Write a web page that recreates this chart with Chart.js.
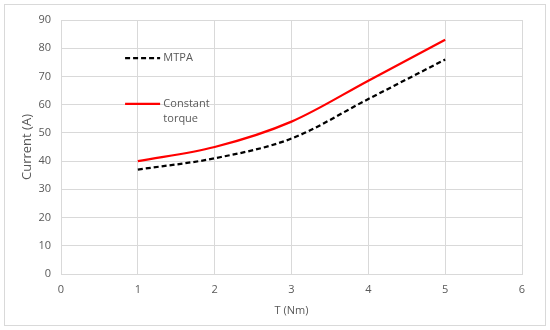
<!DOCTYPE html>
<html>
<head>
<meta charset="utf-8">
<script src="https://cdn.jsdelivr.net/npm/chart.js@4/dist/chart.umd.min.js"></script>
<style>
  html, body { margin: 0; padding: 0; background: #ffffff; }
  canvas { display: block; }
</style>
</head>
<body>
<canvas id="c" width="550" height="330"></canvas>
<script>
const torque = [1, 2, 3, 4, 5];
const mtpaCurrent = [37, 41, 48, 62, 76];
const constantTorqueCurrent = [40, 45, 54, 68.5, 83];
const xTicks = [0, 1, 2, 3, 4, 5, 6];
const yTicks = [0, 10, 20, 30, 40, 50, 60, 70, 80, 90];
const seriesNames = ['MTPA', 'Constant', 'torque'];
const axisTitles = ['T (Nm)', 'Current (A)'];

const textColor = '#595959';
const gridColor = '#d9d9d9';
const fontFamily = '"Open Sans", "Liberation Sans", sans-serif';

function toPoints(xs, ys) { return xs.map((x, i) => ({ x: x, y: ys[i] })); }

const frame = {
  id: 'frame',
  beforeDraw(chart) {
    const ctx = chart.ctx;
    ctx.save();
    ctx.fillStyle = '#ffffff';
    ctx.fillRect(0, 0, chart.width, chart.height);
    ctx.strokeStyle = gridColor;
    ctx.lineWidth = 1;
    ctx.strokeRect(4.5, 4.5, chart.width - 9, chart.height - 9);
    ctx.restore();
  }
};

const innerLegend = {
  id: 'innerLegend',
  afterDraw(chart) {
    const ctx = chart.ctx;
    const a = chart.chartArea;
    const w = a.right - a.left, h = a.bottom - a.top;
    const x0 = a.left + w * 0.139;
    const x1 = a.left + w * 0.215;
    const tx = a.left + w * 0.222;
    const y1 = a.top + h * 0.150;
    const y2 = a.top + h * 0.330;
    const lh = h * 0.060;
    ctx.save();
    ctx.lineWidth = 2.25;
    ctx.strokeStyle = '#000000';
    ctx.setLineDash([5, 3]);
    ctx.beginPath(); ctx.moveTo(x0, y1); ctx.lineTo(x1, y1); ctx.stroke();
    ctx.setLineDash([]);
    ctx.strokeStyle = '#ff0000';
    ctx.beginPath(); ctx.moveTo(x0, y2); ctx.lineTo(x1, y2); ctx.stroke();
    ctx.fillStyle = textColor;
    ctx.font = '11px ' + fontFamily;
    ctx.textAlign = 'left';
    ctx.textBaseline = 'middle';
    ctx.fillText(seriesNames[0], tx, y1);
    ctx.fillText(seriesNames[1], tx, y2);
    ctx.fillText(seriesNames[2], tx, y2 + lh);
    ctx.restore();
  }
};

new Chart(document.getElementById('c'), {
  type: 'line',
  data: {
    datasets: [
      {
        label: seriesNames[0],
        data: toPoints(torque, mtpaCurrent),
        borderColor: '#000000',
        borderWidth: 2.25,
        borderDash: [5, 3],
        pointRadius: 0,
        cubicInterpolationMode: 'monotone',
        fill: false
      },
      {
        label: seriesNames[1] + ' ' + seriesNames[2],
        data: toPoints(torque, constantTorqueCurrent),
        borderColor: '#ff0000',
        borderWidth: 2.25,
        pointRadius: 0,
        cubicInterpolationMode: 'monotone',
        fill: false
      }
    ]
  },
  options: {
    responsive: false,
    animation: false,
    devicePixelRatio: 1,
    layout: { padding: { left: 0, top: 20, right: 28, bottom: 0 } },
    plugins: { legend: { display: false }, tooltip: { enabled: false } },
    scales: {
      x: {
        type: 'linear',
        min: xTicks[0],
        max: xTicks[xTicks.length - 1],
        afterBuildTicks(scale) { scale.ticks = xTicks.map(v => ({ value: v })); },
        afterFit(scale) { scale.height = 56; },
        grid: { color: gridColor, lineWidth: 1, drawTicks: false },
        border: { color: gridColor, width: 1 },
        ticks: { color: textColor, font: { family: fontFamily, size: 11 }, padding: 9 },
        title: { display: true, text: axisTitles[0], color: textColor, font: { family: fontFamily, size: 11 }, padding: { top: 0, bottom: 13 } }
      },
      y: {
        type: 'linear',
        min: yTicks[0],
        max: yTicks[yTicks.length - 1],
        afterBuildTicks(scale) { scale.ticks = yTicks.map(v => ({ value: v })); },
        afterFit(scale) { scale.width = 61; },
        grid: { color: gridColor, lineWidth: 1, drawTicks: false },
        border: { color: gridColor, width: 1 },
        ticks: { color: textColor, font: { family: fontFamily, size: 11 }, padding: 10 },
        title: { display: true, text: axisTitles[1], color: textColor, font: { family: fontFamily, size: 13 }, padding: { top: 19, bottom: 0 } }
      }
    }
  },
  plugins: [frame, innerLegend]
});
</script>
</body>
</html>
